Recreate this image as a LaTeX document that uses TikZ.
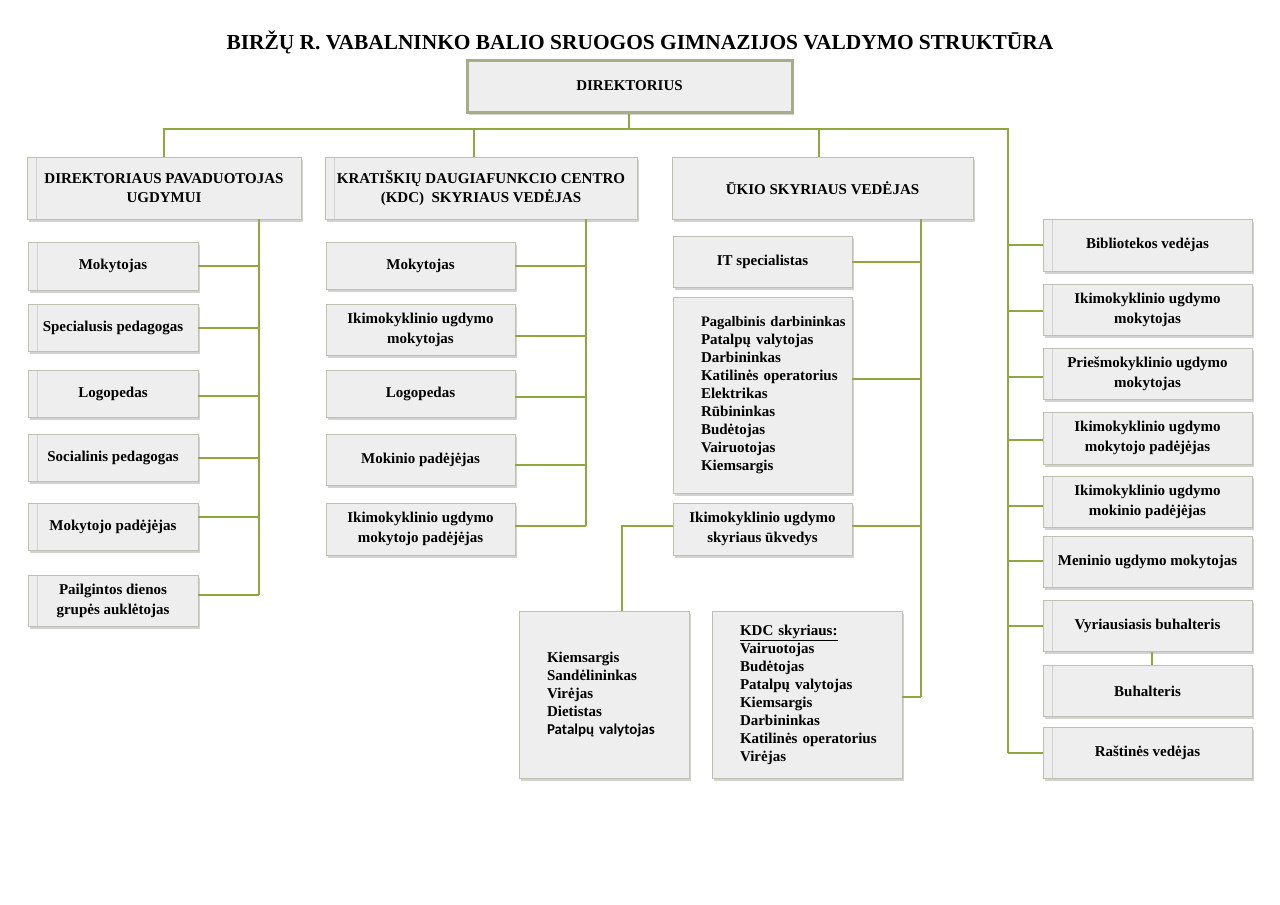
\documentclass[tikz,border=0pt]{standalone}
\usepackage{fontspec}
\setmainfont{Liberation Serif}
\newfontfamily\calfont{Carlito}
\usetikzlibrary{shadows}
\definecolor{linkgreen}{RGB}{146,166,64}
\definecolor{boxline}{RGB}{190,192,176}
\definecolor{boxfill}{RGB}{238,238,238}
\definecolor{topline}{RGB}{168,172,136}

\begin{document}
\begin{tikzpicture}[x=1pt,y=-1pt,
	box/.style={draw=boxline, line width=0.8pt, fill=boxfill, drop shadow={shadow xshift=2pt, shadow yshift=-2.5pt, opacity=0.35}, font=\fontsize{15}{19.5}\selectfont\bfseries, align=center, inner sep=2pt},
	sz/.style 2 args={minimum width=#1pt, minimum height=#2pt},
	seam/.style={path picture={\draw[gray!35, line width=0.6pt] ([xshift=9pt]path picture bounding box.north west) -- ([xshift=9pt]path picture bounding box.south west);}},
	list/.style={align=left, text width=#1pt, inner xsep=28pt, font=\fontsize{15}{18}\selectfont\bfseries},
	link/.style={draw=linkgreen, line width=2pt}]
		\useasboundingbox[fill=white] (0,0) rectangle (1280,905);
		
		\node[font=\fontsize{21.4}{25}\selectfont\bfseries] (title) at (640,42) {BIRŽŲ R. VABALNINKO BALIO SRUOGOS GIMNAZIJOS VALDYMO STRUKTŪRA};
		\node[box, sz={325}{52}, draw=topline, line width=3pt] (dir) at (629.5,86) {DIREKTORIUS};
		
		\node[box, seam, sz={274}{62}] (dep) at (164,188) {DIREKTORIAUS PAVADUOTOJAS\\UGDYMUI};
		\node[box, seam, sz={312}{62}] (kdc) at (481,188) {KRATIŠKIŲ DAUGIAFUNKCIO CENTRO\\(KDC) \ SKYRIAUS VEDĖJAS};
		\node[box, sz={301}{62}] (ukis) at (822.5,188) {ŪKIO SKYRIAUS VEDĖJAS};
		
		% pavaduotojas ugdymui
		\node[box, seam, sz={170}{48}] (lm1) at (113,266) {Mokytojas};
		\node[box, seam, sz={170}{47}] (lm2) at (113,328) {Specialusis pedagogas};
		\node[box, seam, sz={170}{47}] (lm3) at (113,394) {Logopedas};
		\node[box, seam, sz={170}{47}] (lm4) at (113,458) {Socialinis pedagogas};
		\node[box, seam, sz={170}{47}] (lm5) at (113,527) {Mokytojo padėjėjas};
		\node[box, seam, sz={170}{51}] (lm6) at (113,601) {Pailgintos dienos\\grupės auklėtojas};
		
		% KDC
		\node[box, sz={189}{47}] (mm1) at (420.5,266) {Mokytojas};
		\node[box, sz={189}{51}] (mm2) at (420.5,330) {Ikimokyklinio ugdymo\\mokytojas};
		\node[box, sz={189}{47}] (mm3) at (420.5,394) {Logopedas};
		\node[box, sz={189}{51}] (mm4) at (420.5,460) {Mokinio padėjėjas};
		\node[box, sz={189}{52}] (mm5) at (420.5,529) {Ikimokyklinio ugdymo\\mokytojo padėjėjas};
		
		% ukio skyrius
		\node[box, sz={179}{51}] (u1) at (762.5,262) {IT specialistas};
		\node[box, list=123, sz={179}{196}] (u2) at (762.5,395) {\mbox{\fontsize{14.5}{18}\selectfont Pagalbinis darbininkas}\\Patalpų~valytojas\\Darbininkas\\\mbox{Katilinės operatorius}\\Elektrikas\\Rūbininkas\\Budėtojas\\Vairuotojas\\Kiemsargis};
		\node[box, sz={179}{52}] (u3) at (762.5,529) {Ikimokyklinio ugdymo\\skyriaus ūkvedys};
		\node[box, list=114, sz={170}{167}] (ubl) at (604,695) {Kiemsargis\\Sandėlininkas\\Virėjas\\Dietistas\\{\calfont Patalpų~valytojas}};
		\node[box, list=134, sz={190}{167}] (ubr) at (807,695) {\underline{KDC skyriaus:}\\Vairuotojas\\Budėtojas\\Patalpų~valytojas\\Kiemsargis\\Darbininkas\\\mbox{Katilinės operatorius}\\Virėjas};
		
		% tiesiogiai direktoriui
		\node[box, seam, sz={209}{52}] (r1) at (1147.5,245) {Bibliotekos vedėjas};
		\node[box, seam, sz={209}{51}] (r2) at (1147.5,310) {Ikimokyklinio ugdymo\\mokytojas};
		\node[box, seam, sz={209}{51}] (r3) at (1147.5,374) {Priešmokyklinio ugdymo\\mokytojas};
		\node[box, seam, sz={209}{52}] (r4) at (1147.5,438) {Ikimokyklinio ugdymo\\mokytojo padėjėjas};
		\node[box, seam, sz={209}{51}] (r5) at (1147.5,502) {Ikimokyklinio ugdymo\\mokinio padėjėjas};
		\node[box, seam, sz={209}{51}] (r6) at (1147.5,562) {Meninio ugdymo mokytojas};
		\node[box, seam, sz={209}{51}] (r7) at (1147.5,626) {Vyriausiasis buhalteris};
		\node[box, seam, sz={209}{51}] (r8) at (1147.5,691) {Buhalteris};
		\node[box, seam, sz={209}{51}] (r9) at (1147.5,753) {Raštinės vedėjas};
		
		\coordinate (bus) at (629,129);
		\coordinate (rtop) at (1008,129);
		\coordinate (rbot) at (1008,753);
		\coordinate (lsp) at (259,595);
		\coordinate (msp) at (586,526);
		\coordinate (usp) at (921,697);
		
		\draw[link] ([xshift=-0.5pt]dir.south) -- (bus);
		\draw[link] (dep.north) |- (rtop) -- (rbot);
		\draw[link] ([xshift=-7pt]kdc.north) -- ([xshift=-7pt]kdc.north |- bus);
		\draw[link] ([xshift=-3.5pt]ukis.north) -- ([xshift=-3.5pt]ukis.north |- bus);
		
		\draw[link] (dep.south -| lsp) -- (lsp);
		\draw[link] (lm1.east) -- (lm1.east -| lsp);
		\draw[link] (lm2.east) -- (lm2.east -| lsp);
		\draw[link] ([yshift=-2pt]lm3.east) -- ([yshift=-2pt]lm3.east -| lsp);
		\draw[link] (lm4.east) -- (lm4.east -| lsp);
		\draw[link] ([yshift=10pt]lm5.east) -- ([yshift=10pt]lm5.east -| lsp);
		\draw[link] ([yshift=6pt]lm6.east) -- (lsp);
		
		\draw[link] (kdc.south -| msp) -- (msp);
		\draw[link] (mm1.east) -- (mm1.east -| msp);
		\draw[link] ([yshift=-6pt]mm2.east) -- ([yshift=-6pt]mm2.east -| msp);
		\draw[link] ([yshift=-3pt]mm3.east) -- ([yshift=-3pt]mm3.east -| msp);
		\draw[link] ([yshift=-5pt]mm4.east) -- ([yshift=-5pt]mm4.east -| msp);
		\draw[link] ([yshift=3pt]mm5.east) -- (msp);
		
		\draw[link] (ukis.south -| usp) -- (usp);
		\draw[link] (u1.east) -- (u1.east -| usp);
		\draw[link] ([yshift=16pt]u2.east) -- ([yshift=16pt]u2.east -| usp);
		\draw[link] ([yshift=3pt]u3.east) -- ([yshift=3pt]u3.east -| usp);
		\draw[link] ([yshift=3pt]u3.west) -| ([xshift=18pt]ubl.north);
		\draw[link] ([yshift=-2pt]ubr.east) -- (usp);
		
		\draw[link] (r1.west) -- (r1.west -| rtop);
		\draw[link] ([yshift=-1pt]r2.west) -- ([yshift=-1pt]r2.west -| rtop);
		\draw[link] ([yshift=-3pt]r3.west) -- ([yshift=-3pt]r3.west -| rtop);
		\draw[link] ([yshift=-2pt]r4.west) -- ([yshift=-2pt]r4.west -| rtop);
		\draw[link] ([yshift=-4pt]r5.west) -- ([yshift=-4pt]r5.west -| rtop);
		\draw[link] ([yshift=1pt]r6.west) -- ([yshift=1pt]r6.west -| rtop);
		\draw[link] (r7.west) -- (r7.west -| rtop);
		\draw[link] ([xshift=4.5pt]r7.south) -- ([xshift=4.5pt]r8.north);
		\draw[link] (r9.west) -- (rbot);
\end{tikzpicture}
\end{document}
